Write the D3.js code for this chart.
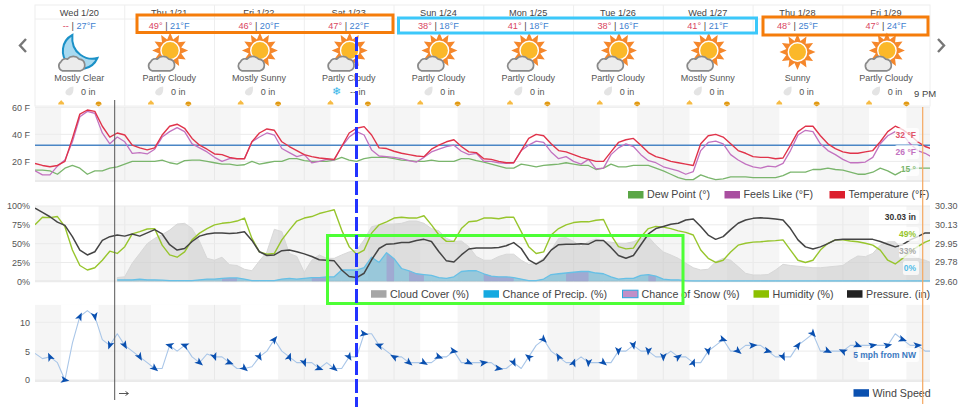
<!DOCTYPE html>
<html><head><meta charset="utf-8">
<script src="https://cdn.jsdelivr.net/npm/d3@7"></script>
<style>html,body{margin:0;padding:0;background:#fff}svg{display:block}text{font-family:"Liberation Sans",Arial,sans-serif}</style>
</head><body><svg id="c" width="960" height="407"></svg>
<script>
const days=["Wed 1/20","Thu 1/21","Fri 1/22","Sat 1/23","Sun 1/24","Mon 1/25","Tue 1/26","Wed 1/27","Thu 1/28","Fri 1/29"];
const highs=["--","49°","46°","47°","38°","41°","38°","41°","48°","47°"];
const lows=["27°F","21°F","20°F","22°F","18°F","18°F","16°F","21°F","25°F","24°F"];
const conds=["Mostly Clear","Partly Cloudy","Mostly Sunny","Partly Cloudy","Partly Cloudy","Partly Cloudy","Partly Cloudy","Mostly Sunny","Sunny","Partly Cloudy"];
const precipTxt=["0 in","0 in","0 in","-- in","0 in","0 in","0 in","0 in","0 in","0 in"];
const tempTicks=[20,40,60], pctTicks=[0,25,50,75,100], windTicks=[0,5,10], pressTicks=[29.60,29.78,29.95,30.13,30.30];
const temperature=[18.5,17,16,17,20,37,55,58,57,46,38,41,39.5,32,30,28.5,30,39.5,46,47.5,44.5,37,32,29,25.5,25,23,22,22,34.5,41,44,43,34.5,31,28,25,23.5,22.5,22,21.5,31,41,44.5,45.7,39.5,30,29.5,27.5,26,25,24,23.5,29,32,34.5,36,31,27,26.5,22,21.5,20,19,19,28,37,40,39,33,28,27,25,23,21.5,20,20,27,34,36,37,32,26.5,23.5,22,20,19,18,17,33,39,40,38,33,28,26,23.5,23,23,22,22.5,32,42,46,46,39,33,29.5,27,26,26,27,28,34.5,42,46,43.5,39.5,34.5,31,29];
const feelsLike=[13,10,10,16.5,21,34.5,53,57,55.5,41,33,38,34.5,26,26.5,25.5,29,38,42,45,42,33,30,27,23,20,22,22,22,34.5,38,41,39.5,29.5,26.5,23.5,25,19,20,21.5,21,31,38,42,39.5,28.5,24,23.5,23,22,20.5,19.5,23,27,29,31,32,27.5,25,26,20,20,19,18.5,19,28,32,35,34,27,22,23.5,20,18,21.5,14.5,15,25,30,33,31,25,20.5,19,16,14.5,13,10.5,12.5,28,34,35,33,25,21,18,16,15,16.5,16,18.5,28,39.5,43,42,33,28,25,21.5,19,19,19.5,23,33,39,42,40,33,28,26,23];
const dewPoint=[13.5,13.5,13,10.5,15,17,15,10.5,13,13,15,16,18,20,20,20,20,21,19,18,20.5,21,21,20,19,18,18,17,17.5,20,18,19,20,20,22,22,20.5,20,20,20,21,23,21,20,22,23,23,23,22,21,20.5,20,20,21,20,20,20,22,22,20.5,19.5,18,16.5,15,15,18,17,16,17,17.5,18,19,18,17,17,14,15,18,16,16,17,17,17,15,13,10.5,8,6.5,6.5,10,8,6.5,7,8.5,8.5,8.5,8,8,8,8,9.5,12,12,12,14,14,15,14,13.5,12,10.5,10.5,12,15,13,10,13,14,15,15,15];
const freezing=32;
const humidity=[75,85,84.5,86,72.5,41.5,21,15,18,28,40,37,46,63,66,69.5,70,48,35,32,39,55,64,70,75,77,78,80,84,57,39,36,37,55,68,80,84,86,90,92.5,95,68,46,36,41.5,64,75,79,84,85,84,84,87,75,61.5,53,53,70,79,80,84,84,83,85,85,66,46,37,39,61.5,70,75,78,79,79,81,82,61.5,46,43,44,59,70,73,72,70,67,65,61.5,41.5,30.5,25,28,39,48,50.5,52,52.5,53.5,54,55,41.5,28,25,28,41.5,50.5,55,55,53.5,52.5,50.5,48,41.5,28,23,30.5,39,46,52,56];
const pressure=[30.28,30.24,30.20,30.15,30.12,30.015,29.89,29.845,29.875,29.98,30.015,30.03,30.02,30.04,30.02,30.05,30.08,30.04,29.94,29.89,29.905,29.97,30.02,30.04,30.05,30.05,30.045,30.05,30.06,29.98,29.875,29.84,29.845,29.885,29.89,29.875,29.855,29.83,29.80,29.795,29.79,29.705,29.645,29.635,29.675,29.80,29.905,29.945,29.95,29.96,29.96,29.98,29.99,29.97,29.875,29.79,29.78,29.845,29.90,29.91,29.91,29.91,29.915,29.93,29.96,29.905,29.80,29.76,29.80,29.89,29.94,29.945,29.945,29.95,29.945,29.98,29.98,29.915,29.84,29.815,29.84,29.94,30.04,30.09,30.11,30.13,30.14,30.17,30.18,30.11,30.03,29.99,30.015,30.08,30.14,30.17,30.185,30.19,30.185,30.18,30.17,30.09,29.985,29.92,29.90,29.92,29.95,29.985,29.99,29.99,29.99,29.99,29.99,29.97,29.945,29.92,29.94,29.985,30.015,30.05,30.05];
const cloudCover=[null,null,null,null,null,null,null,null,null,null,null,5,6,24,37,50,57,62,68,76,77,70,53,30.5,28,32,22,21,16,14,27,39,69,66,37,33,12,28,35,30.5,30.5,35,39,41.5,55,72.5,75,76,76,77,80,80,77,70,67,57,53,53.5,46,33,28,28,33,36,36,28,22.5,24,30.5,41.5,57,58,53,46,53,56,53,52,50.5,50.5,52.5,57,59,48,39,35,30.5,24,18,15,16,26,30.5,28,19.5,10.6,8.4,8.4,9,15,22.5,21,20,19,18,18,19,20,21,28,33.6,32.7,37,48,52.5,52.5,41.5,35,30.5,28,24];
const precipChance=[null,null,null,null,null,null,null,null,null,null,null,2,2,2,3,2,2,1.5,1,1,1,1,2,3,3,4,4.5,4.5,3,1,1,1,1,3,4,3,4,5,5,6,6,15,15,15,18,32,25,38,30,17,14,10,9,8,5,4,6,13,14,14,10,7,6,6,5,3,1,1,3,9,10,11,12,13,13,11,10,6,3,4,4,8,9,7,3,2,2,1,0.5,0.5,0.5,0.5,0.5,0.5,0.5,0.5,0.5,0.5,0.5,0.5,0.5,0.5,0.5,0.5,0.5,0.5,0.5,0.5,0.5,0.5,0.5,0.5,0.5,0.5,0.5,0.5,0.5,0.5,0.5,0.5,0.5];
const snowChance=temperature.map(()=>null);
[[25,4],[26,4.5],[27,4.5],[37,5],[38,5],[39,6],[47,38],[48,30],[50,14],[51,10],[52,9],[60,10],[61,7],[62,6],[63,6],[64,5],[71,11],[72,12],[73,13],[74,13],[82,9],[83,7]].forEach(p=>snowChance[p[0]]=p[1]);
const windSpeed=[4.6,3.7,4,3,0,6.4,11,12,11,7,6,8,6,5,4,3,2,2,6,5,6,4,3,4.5,4,4,3,2,2,2.3,4,5,7,5,4,3,3,3,2,3,2,2,4,4,8,8,6,5,4,4,3,3,3,3,4,4,5,3,3,3,3,3,2,2,3,2,4,6,7,5,4,3,3,4,3,3,3,3,5,5,6,5,5,4,4,5,4,4,3,3,5,6,7,5,5,6,6,6,5,4,4,4,6,7,8,5,5,5,5,6,6,6,6,6,6,8,7,6,6,5,5];
const windDir=[335,100,25,170,200,150,150,130,285,290,130,160,110,130,150,40,20,160,110,130,150,100,290,300,130,120,110,100,115,80,100,155,305,135,330,20,185,130,180,170,185,180,55,20,170,110,130,85,105,155,35,140,115,295,110,80,80,110,85];
const width=960,height=407,X0=35,X1=930,HOUR_MAX=239.3,STEP=2;
const svg=d3.select("#c");
const x=d3.scaleLinear().domain([0,HOUR_MAX]).range([X0,X1]);
const yT=d3.scaleLinear().domain([5.5,60]).range([181,107.3]);
const yP=d3.scaleLinear().domain([0,100]).range([281.3,206]);
const yIn=d3.scaleLinear().domain([29.6,30.3]).range([281.3,206]);
const yW=d3.scaleLinear().domain([0,13]).range([380,304.9]);
const hr=(d,i)=>x(i*STEP);
svg.append("defs").append("clipPath").attr("id","plot").append("rect").attr("x",X0).attr("y",0).attr("width",X1-X0).attr("height",height);
// header table
const hdr=svg.append("g");
hdr.append("rect").attr("x",X0).attr("y",5).attr("width",X1-X0).attr("height",101).attr("fill","none").attr("stroke","#eee");
hdr.append("line").attr("x1",X0).attr("x2",X1).attr("y1",19).attr("y2",19).attr("stroke","#eee");
days.forEach((d,i)=>{
  const l=i==0?X0:X0+24*i*(X1-X0)/HOUR_MAX, r=i==9?X1:X0+24*(i+1)*(X1-X0)/HOUR_MAX, c=(l+r)/2-0.5;
  if(i>0) hdr.append("line").attr("x1",l).attr("x2",l).attr("y1",5).attr("y2",106).attr("stroke","#eee");
  hdr.append("text").attr("x",c).attr("y",15.5).attr("text-anchor","middle").attr("font-size",9.2).attr("fill","#444").text(d);
  const t=hdr.append("text").attr("x",c).attr("y",29).attr("text-anchor","middle").attr("font-size",9.2);
  t.append("tspan").attr("fill","#d9465f").text(highs[i]);
  t.append("tspan").attr("fill","#444").text(" | ");
  t.append("tspan").attr("fill","#3f7fd0").text(lows[i]);
  hdr.append("text").attr("x",c).attr("y",81).attr("text-anchor","middle").attr("font-size",9).attr("fill","#555").text(conds[i]);
  hdr.append("text").attr("x",c+9).attr("y",94.5).attr("text-anchor","middle").attr("font-size",9).attr("fill","#555").text(precipTxt[i]);
  if(precipTxt[i]=="-- in") hdr.append("text").attr("x",c-12).attr("y",95).attr("text-anchor","middle").attr("font-size",11).attr("fill","#2eb4e8").style("font-family","DejaVu Sans").text("❄");
  else hdr.append("path").attr("transform",`translate(${c-10},91)`).attr("d","M4,-4.5C1,-4.5,-4,-1.5,-4,1.5C-4,3.5,-2,4.5,0,4.5C3,4.5,4.5,1,4,-4.5Z").attr("fill","#e4e4e4");
  const cond=conds[i], g=hdr.append("g");
  if(cond=="Mostly Clear"){
    g.append("path").attr("transform",`translate(${c+1},50)`).attr("d","M-8,-15A18,18,0,1,0,17,8C7,11,-10,4,-8,-15Z").attr("fill","#a9daf0").attr("stroke","#1b91c7").attr("stroke-width",2);
  } else {
    const sx=c+(cond=="Sunny"?0:1),sy=cond=="Sunny"?52:50.5;
    const rays=d3.range(12).map(k=>k*Math.PI/6-Math.PI/2);
    const pts=[];rays.forEach(a=>{pts.push([sx+18*Math.cos(a),sy+18*Math.sin(a)]);pts.push([sx+11.5*Math.cos(a+Math.PI/12),sy+11.5*Math.sin(a+Math.PI/12)]);});
    g.append("polygon").attr("points",pts.map(p=>p.join(",")).join(" ")).attr("fill","#f5872b");
    g.append("circle").attr("cx",sx).attr("cy",sy).attr("r",9.2).attr("fill","#fbb829").attr("stroke","#fff").attr("stroke-width",1.4);
  }
  if(cond!="Sunny"){
    g.append("path").attr("transform",`translate(${c-8},63) scale(1.3)`).attr("d","M-7,6A4,4,0,0,1,-8,-1A4,4,0,0,1,-3,-3A6,6,0,0,1,6,-3A4.6,4.6,0,0,1,7,6Z").attr("fill","#ececec").attr("stroke","#8a8a8a").attr("stroke-width",1.3);
  }
});
// sunrise/sunset marks and day bands
const sunrises=d3.range(10).map(d=>7+24*d), sunsets=d3.range(10).map(d=>17+24*d);
const panels=[[yT(60),yT(5.5)],[206,281.3],[304.9,381]];
panels.forEach(p=>{
  const g=svg.append("g").attr("clip-path","url(#plot)");
  g.append("rect").attr("x",X0).attr("y",p[0]).attr("width",X1-X0).attr("height",p[1]-p[0]).attr("fill","#f5f5f5");
  sunrises.forEach((s,i)=>g.append("rect").attr("x",x(s)).attr("y",p[0]).attr("width",x(sunsets[i])-x(s)).attr("height",p[1]-p[0]).attr("fill","#fff"));
  d3.range(1,10).forEach(d=>g.append("line").attr("x1",x(24*d)).attr("x2",x(24*d)).attr("y1",p[0]).attr("y2",p[1]).attr("stroke","#e8e8e8"));
  g.append("line").attr("x1",X0).attr("x2",X1).attr("y1",p[1]).attr("y2",p[1]).attr("stroke","#eaeaea").attr("stroke-width",2);
});
sunrises.forEach((s,i)=>{
  const g=svg.append("g");
  [[x(s),"#f6bb45",-1],[x(sunsets[i]),"#e29a12",1]].forEach(a=>{
    g.append("path").attr("transform",`translate(${a[0]},104.5)`).attr("d","M-3,0A3,3,0,0,1,3,0Z").attr("fill",a[1]);
    if(a[2]>0) g.append("path").attr("transform",`translate(${a[0]},104.5)`).attr("d","M-3,0H3L0,2Z").attr("fill",a[1]);
    else g.append("path").attr("transform",`translate(${a[0]},104.5)`).attr("d","M-1.5,-2.5L0,-4.5L1.5,-2.5Z").attr("fill",a[1]);
  });
});
function hGrid(ticks,y){ticks.forEach(t=>svg.append("line").attr("x1",X0).attr("x2",X1).attr("y1",y(t)).attr("y2",y(t)).attr("stroke","#ebebeb"));}
hGrid(tempTicks,yT);hGrid(pctTicks,yP);hGrid(windTicks,yW);
function axisText(sel){sel.select(".domain").remove();sel.selectAll(".tick line").remove();sel.selectAll("text").attr("font-size",9).attr("fill","#555").style("font-family",'"Liberation Sans",Arial,sans-serif');}
svg.append("g").attr("transform",`translate(33,0)`).call(d3.axisLeft(yT).tickValues(tempTicks).tickFormat(d=>d+" F").tickSize(0).tickPadding(3)).call(axisText);
svg.append("g").attr("transform",`translate(33,0)`).call(d3.axisLeft(yP).tickValues(pctTicks).tickFormat(d=>d+"%").tickSize(0).tickPadding(3)).call(axisText);
svg.append("g").attr("transform",`translate(33,0)`).call(d3.axisLeft(yW).tickValues(windTicks).tickSize(0).tickPadding(3)).call(axisText);
svg.append("g").attr("transform",`translate(935,0)`).call(d3.axisRight(yIn).tickValues(pressTicks).tickFormat(d3.format(".2f")).tickSize(0).tickPadding(0)).call(axisText);
const plot=svg.append("g").attr("clip-path","url(#plot)");
const line=y=>d3.line().defined(d=>d!=null).x(hr).y(d=>y(d));
const area=y=>d3.area().defined(d=>d!=null).x(hr).y0(y(0)).y1(d=>y(d));
function stroke(data,y,c,w){plot.append("path").attr("d",line(y)(data)).attr("fill","none").attr("stroke",c).attr("stroke-width",w).attr("stroke-linejoin","round");}
// temperature panel
plot.append("line").attr("x1",X0).attr("x2",X1).attr("y1",yT(freezing)).attr("y2",yT(freezing)).attr("stroke","#4a86c5").attr("stroke-width",1.5);
stroke(dewPoint,yT,"#7ab56c",1.3);
stroke(feelsLike,yT,"#c272c0",1.3);
stroke(temperature,yT,"#e0334a",1.4);
// percent panel
plot.append("path").attr("d",area(yP)(cloudCover)).attr("fill","#c8c8c8").attr("fill-opacity",.55).attr("stroke","#d8d8d8");
plot.append("path").attr("d",area(yP)(precipChance)).attr("fill","#35a9d8").attr("fill-opacity",.4);
plot.append("path").attr("d",area(yP)(snowChance)).attr("fill","#a884c8").attr("fill-opacity",.45);
stroke(precipChance,yP,"#67c0e6",1.3);
stroke(humidity,yP,"#97c52c",1.4);
stroke(pressure,yIn,"#444",1.5);
// wind panel
stroke(windSpeed,yW,"#a9c6e8",1.1);
windDir.forEach((a,k)=>{
  const i=2+2*k;
  plot.append("path").attr("transform",`translate(${hr(0,i)},${yW(windSpeed[i])}) rotate(${a})`).attr("d","M0,-4.5L3.4,4L0,2L-3.4,4Z").attr("fill","#0a50b0");
});
// end-of-line labels
function tag(txt,y,c,w,bold){
  svg.append("rect").attr("x",917-w).attr("y",y-7).attr("width",w+2).attr("height",14).attr("rx",2).attr("fill","#fff").attr("fill-opacity",.75);
  svg.append("text").attr("x",916).attr("y",y+3).attr("text-anchor","end").attr("font-size",8.5).attr("font-weight",bold?"bold":"normal").attr("fill",c).text(txt);
}
tag("32 °F",135,"#e0556a",22,1);tag("26 °F",152,"#c272c0",22,1);tag("15 °",169,"#7ab56c",16,1);
tag("30.03 in",217,"#333",32,1);tag("49%",234,"#97c52c",18,1);tag("33%",251,"#aaa",18,1);tag("0%",268,"#55bde8",14,1);
tag("5 mph from NW",355,"#3a78c0",60,1);
// legends
function legend(items,y){items.forEach(it=>{
  svg.append("rect").attr("x",it[0]).attr("y",y-3.5).attr("width",15.5).attr("height",7.5).attr("fill",it[2]).attr("stroke",it[3]||"none");
  svg.append("text").attr("x",it[0]+19).attr("y",y+3.8).attr("font-size",10.7).attr("fill","#444").text(it[1]);
});}
legend([[628,"Dew Point (°)","#5aa646"],[724.5,"Feels Like (°F)","#a94fa0"],[829.5,"Temperature (°F)","#dc1f2d"]],194.5);
legend([[371,"Cloud Cover (%)","#a6a6a6"],[483.5,"Chance of Precip. (%)","#15a9e0"],[622.5,"Chance of Snow (%)","#c08fc8","#2aa7e0"],[753.5,"Humidity (%)","#8cc000"],[847,"Pressure. (in)","#222"]],293.7);
legend([[853.5,"Wind Speed","#0a50b0"]],392.7);
// nav chevrons
svg.append("path").attr("d","M26,39L20,45.5L26,52").attr("fill","none").attr("stroke","#777").attr("stroke-width",2.4);
svg.append("path").attr("d","M938,39L944,45.5L938,52").attr("fill","none").attr("stroke","#777").attr("stroke-width",2.4);
// cursor
svg.append("line").attr("x1",114.7).attr("x2",114.7).attr("y1",100).attr("y2",400).attr("stroke","#555").attr("stroke-width",1);
svg.append("path").attr("d","M119,393.5H128M125.5,391.5L128.5,393.5L125.5,395.5").attr("fill","none").attr("stroke","#444").attr("stroke-width",.9);
svg.append("line").attr("x1",922.7).attr("x2",922.7).attr("y1",107).attr("y2",404).attr("stroke","#f5a860").attr("stroke-width",1.2);
svg.append("text").attr("x",914).attr("y",97).attr("font-size",9.5).attr("fill","#444").text("9 PM");
// annotation overlays
function box(x0,y0,x1,y1,c){svg.append("rect").attr("x",x0).attr("y",y0).attr("width",x1-x0).attr("height",y1-y0).attr("fill","none").attr("stroke",c).attr("stroke-width",3);}
box(137,15,393,32.5,"#f57c0a");box(763,17,928,35,"#f57c0a");box(398.5,18,756.5,33,"#3cc8fa");box(327.5,235.5,683,303.5,"#4dff35");
svg.append("line").attr("x1",356.5).attr("x2",356.5).attr("y1",37).attr("y2",407).attr("stroke","#2233ff").attr("stroke-width",3).attr("stroke-dasharray","14 4");
</script></body></html>
